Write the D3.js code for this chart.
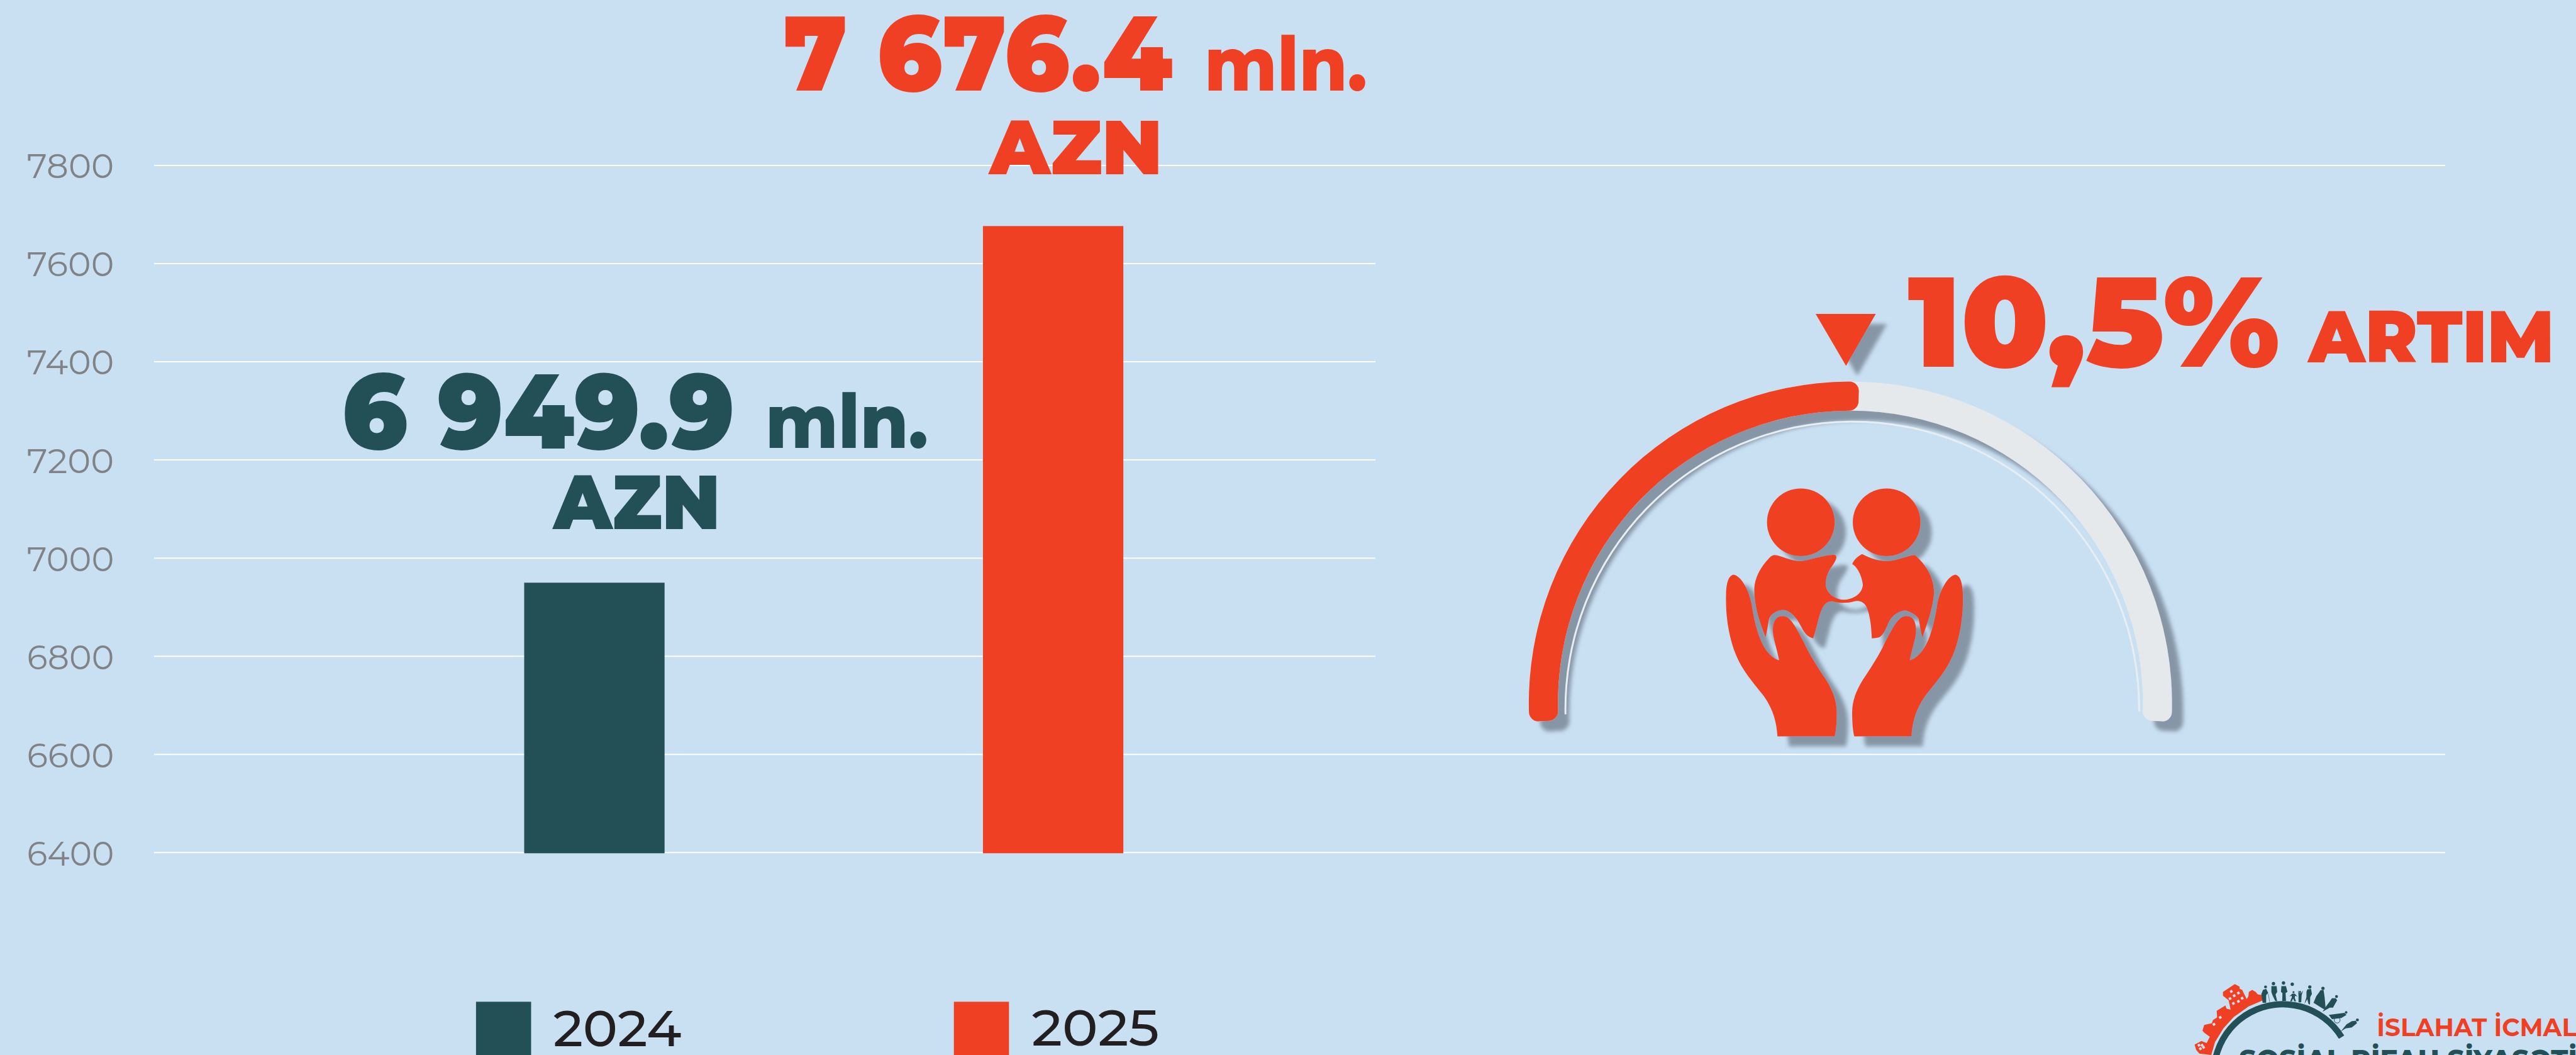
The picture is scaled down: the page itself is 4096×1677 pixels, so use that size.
<!DOCTYPE html>
<html><head><meta charset="utf-8"><style>html,body{margin:0;padding:0;background:#c9e0f3;overflow:hidden}svg{display:block}text{font-family:Montserrat,sans-serif}</style>
<script src="https://cdn.jsdelivr.net/npm/d3@7"></script></head><body><svg id="c"></svg>
<script>
const years=["2024","2025"];
const values=[6949.9,7676.4];
const ticks=[6400,6600,6800,7000,7200,7400,7600,7800];
const wideTicks=[6400,6600,7800];
const bigLabels=["6 949.9","7 676.4"];
const unitLabel="mln.";
const currencyLabel="AZN";
const growthLabel="10,5%";
const growthWord="ARTIM";
const logoLines=["İSLAHAT İCMAL","SOSİAL RİFAH SİYASƏTİ"];
const BG="#c9e0f3",RED="#f04023",DARK="#234f57",colors=[DARK,RED];

const svg=d3.select("#c").attr("width",4096).attr("height",1677).attr("viewBox","0 0 4113 1684");
svg.append("rect").attr("width",4113).attr("height",1684).attr("fill",BG);
const defs=svg.append("defs");
function shadow(id,dx,dy,sd,col){
  const f=defs.append("filter").attr("id",id).attr("filterUnits","userSpaceOnUse")
    .attr("x",2300).attr("y",400).attr("width",1400).attr("height",900);
  f.append("feDropShadow").attr("dx",dx).attr("dy",dy).attr("stdDeviation",sd).attr("flood-color",col).attr("flood-opacity",1);
}
shadow("sh",18,16,3,"#8796a6");
defs.append("filter").attr("id","bl").attr("filterUnits","userSpaceOnUse")
  .attr("x",2300).attr("y",400).attr("width",1400).attr("height",900)
  .append("feGaussianBlur").attr("stdDeviation",2.5);

function T(g,s,x,y,size,weight,fill,len){
  const t=g.append("text").attr("x",x).attr("y",y).attr("font-size",size).attr("font-weight",weight).attr("fill",fill).text(s);
  if(len) t.attr("textLength",len).attr("lengthAdjust","spacingAndGlyphs");
  return t;
}

// scales
const y=d3.scaleLinear().domain([6400,7800]).range([1361,264]);
const x=d3.scaleBand().domain(years).range([582.75,2047.75]).paddingInner(.694).paddingOuter(.347);

// grid
const grid=svg.append("g");
grid.selectAll("line").data(ticks).join("line")
  .attr("x1",246).attr("x2",d=>wideTicks.includes(d)?3904:2196)
  .attr("y1",d=>y(d)).attr("y2",d=>y(d)).attr("stroke","#fff").attr("stroke-width",2);

// y axis
const ax=svg.append("g").attr("transform","translate(182,0)")
  .call(d3.axisLeft(y).tickValues(ticks).tickSize(0).tickPadding(0).tickFormat(d3.format("d")));
ax.select(".domain").remove();
ax.selectAll("text").attr("font-size",54).attr("font-weight",400).attr("fill","#808285")
  .attr("dy",null).attr("y",20)
  .attr("textLength",139).attr("lengthAdjust","spacingAndGlyphs")
  .style("font-family","Montserrat,sans-serif");

// bars
svg.append("g").selectAll("rect").data(years).join("rect")
  .attr("x",d=>x(d)).attr("width",x.bandwidth())
  .attr("y",(d,i)=>y(values[i])).attr("height",(d,i)=>y(6400)-y(values[i])+1)
  .attr("fill",(d,i)=>colors[i]);

// value labels
const lab=svg.append("g");
T(lab,bigLabels[0],546,716,170,900,DARK,627);
T(lab,unitLabel,1222,715,120,800,DARK,260);
T(lab,currencyLabel,884,845,122,900,DARK,266);
T(lab,bigLabels[1],1251,145,170,900,RED,621);
T(lab,unitLabel,1923,145,120,800,RED,260);
T(lab,currencyLabel,1580,278,122,900,RED,276);

// legend
const lg=svg.append("g");
lg.selectAll("rect").data(years).join("rect")
  .attr("x",(d,i)=>[760,1523][i]).attr("y",1599).attr("width",88).attr("height",85)
  .attr("fill",(d,i)=>colors[i]);
years.forEach((d,i)=>T(lg,d,[883,1647][i],[1670,1669][i],81,500,"#231f20",[205,204][i]));

// gauge
const A=Math.PI/2, ext=.058;
const arc=d3.arc().innerRadius(467).outerRadius(513.5).cornerRadius(15);
const ringWrap=svg.append("g").attr("filter","url(#sh)");
const rw=ringWrap.append("g").attr("transform","translate(2954.5,1122.5)");
rw.append("path").attr("d",arc({startAngle:-A-ext,endAngle:A+ext})).attr("fill","#e6e9eb");
rw.append("path").attr("d",arc({startAngle:-A-ext,endAngle:.027})).attr("fill",RED);
// inner echo of the ring
const echo=svg.append("g").attr("transform","translate(2957.5,1131)");
echo.append("path").attr("d",d3.arc().innerRadius(437).outerRadius(458)({startAngle:-A-.02,endAngle:A+.01}))
  .attr("fill","#aec2d3").attr("filter","url(#bl)");
echo.append("path").attr("d",d3.arc().innerRadius(456.5).outerRadius(459.5)({startAngle:-A-.02,endAngle:A+.01}))
  .attr("fill","#e8edf1");

// triangle pointer
const sym=svg.append("g").attr("filter","url(#sh)");
sym.append("path").attr("d",d3.line()([[2899,501],[2995,501],[2947.5,584]])+"Z").attr("fill",RED);

// growth text
const gr=svg.append("g");
T(gr,growthLabel,3046,585,204,900,RED,594);
T(gr,growthWord,3686,578,117,900,RED,392);

// family icon (outlines traced in crop space)
const icon=svg.append("g").attr("filter","url(#sh)");
const ic=icon.append("g").attr("transform","translate(2700,750) scale(.3333333)").attr("fill",RED);
ic.append("circle").attr("cx",526).attr("cy",251).attr("r",162);
ic.append("circle").attr("cx",937).attr("cy",251).attr("r",162);
ic.append("path").attr("d","M400,408 C430,410 480,438 525,437 C570,434 650,402 690,408 C705,415 690,440 680,455 C660,480 645,510 645,550 C648,590 690,622 733,622 C780,620 822,590 823,550 C820,510 795,462 773,452 C772,440 800,410 820,403 C850,420 900,438 945,437 C985,435 1040,410 1072,408 C1105,435 1165,500 1164,590 C1160,660 1130,740 1108,802 C1100,775 1095,735 1090,712 C1075,690 1050,680 1025,672 C985,680 960,700 945,735 C930,770 920,790 905,800 C895,805 880,805 866,807 C864,760 860,700 840,655 C825,628 800,625 780,630 C755,638 710,640 680,630 C660,625 640,640 630,660 C610,700 605,750 585,807 C560,800 545,785 530,755 C510,715 480,672 440,671 C410,673 385,690 375,710 C368,740 365,775 357,802 C325,720 303,650 303,570 C305,510 340,460 372,425 C382,415 390,408 400,408 Z");
const handD="M205,502 C240,510 275,570 290,640 C305,740 335,885 422,912 C410,850 390,800 392,760 C395,720 410,700 440,700 C480,700 510,770 540,825 C570,890 610,950 650,1010 C680,1060 700,1110 698,1170 C698,1210 695,1250 688,1276 L414,1276 C410,1210 395,1150 350,1085 C300,1020 240,960 205,860 C175,770 165,680 168,590 C170,540 180,505 205,502 Z";
ic.append("path").attr("d",handD);
ic.append("path").attr("d",handD).attr("transform","translate(1470,0) scale(-1,1)");

// logo
const logo=svg.append("g");
const lc=[3645,1713];
const la=logo.append("g").attr("transform",`translate(${lc})`);
la.append("path").attr("d",d3.arc().innerRadius(105).outerRadius(115)({startAngle:-2,endAngle:1.02})).attr("fill",DARK);
const lp=logo.append("g").attr("transform","translate(3490,1550) scale(.3333333)");
lp.append("path").attr("fill",RED).attr("d",d3.line()([[122,402],[65,395],[50,378],[42,352],[75,335],[100,345],[115,315],[88,295],[80,285],[88,258],[125,250],[130,235],[150,222],[148,190],[190,165],[195,180],[215,185],[205,140],[178,118],[178,100],[235,62],[258,75],[258,85],[270,90],[292,135],[300,120],[302,100],[318,90],[335,100],[345,112],[370,115],[370,140],[300,170],[230,220],[180,275],[140,340]])+"Z");
lp.append("g").attr("fill",BG).selectAll("rect").data([[232,118],[252,105],[212,132],[228,155],[252,145],[270,130],[218,98],[63,355],[78,355],[70,372],[85,365],[135,255],[165,222]])
  .join("rect").attr("x",d=>d[0]-6).attr("y",d=>d[1]-6).attr("width",12).attr("height",12)
  .attr("transform",d=>`rotate(-30,${d[0]},${d[1]})`);
const ppl=lp.append("g").attr("fill",DARK);
[[382,76,7],[420,60,8],[468,57,8],[510,63,8],[516,101,5],[547,100,5],[594,76,8],[657,83,8],[722,122,7],[768,198,6],[822,234,7]]
  .forEach(c=>ppl.append("circle").attr("cx",c[0]).attr("cy",c[1]).attr("r",c[2]));
[
 [[370,90],[385,85],[395,105],[385,115],[385,152],[368,152],[362,110]],
 [[410,72],[435,72],[438,100],[430,112],[438,145],[428,142],[415,115],[410,100]],
 [[458,72],[480,72],[487,100],[478,105],[480,143],[462,143],[463,105],[456,100]],
 [[510,108],[522,108],[535,122],[524,118],[522,128],[528,145],[520,145],[514,132],[508,145],[500,145],[508,125],[507,118],[496,122]],
 [[538,92],[543,105],[553,105],[562,93],[555,115],[553,150],[540,150],[540,118]],
 [[582,88],[600,86],[604,110],[596,125],[595,160],[588,158],[582,135],[568,158],[578,125],[578,100]],
 [[645,92],[660,92],[665,125],[670,180],[660,182],[612,152],[625,120],[640,100]],
 [[700,130],[718,130],[725,140],[705,175],[690,175],[655,195],[675,165],[690,145]],
 [[725,205],[760,200],[770,210],[745,225],[700,230],[685,210]],
 [[795,240],[815,238],[820,250],[795,270],[765,275],[742,290],[770,255]]
].forEach(p=>ppl.append("path").attr("d",d3.line()(p)+"Z"));
lp.append("circle").attr("cx",725).attr("cy",235).attr("r",14).attr("fill","none").attr("stroke",DARK).attr("stroke-width",3);
lp.append("path").attr("d","M395,110 L402,148").attr("stroke",DARK).attr("stroke-width",2).attr("fill","none");
T(logo,logoLines[0],3795,1654,40,700,RED,319);
T(logo,logoLines[1],3575,1707,44,800,DARK,540);
</script></body></html>
